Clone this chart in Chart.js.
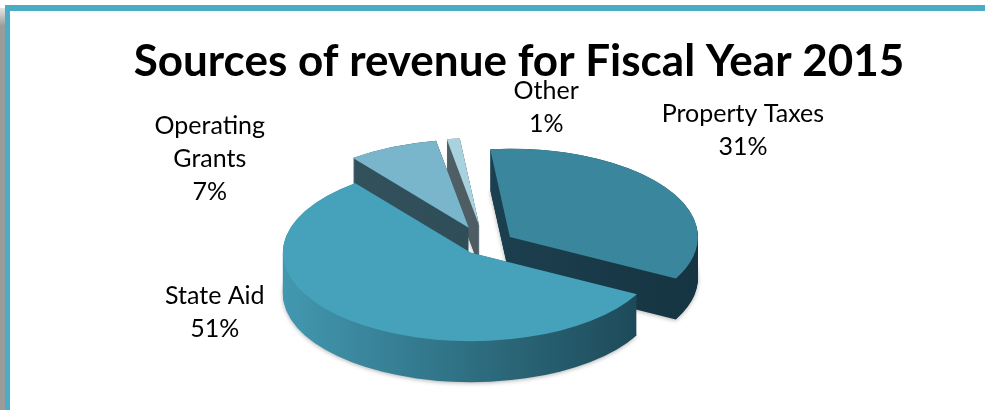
<!DOCTYPE html>
<html>
<head>
<meta charset="utf-8">
<title>Sources of revenue</title>
<script src="https://cdn.jsdelivr.net/npm/chart.js@4.4.1/dist/chart.umd.min.js"></script>
<style>
  html, body { margin: 0; padding: 0; background: #fff; overflow: hidden; }
  body { width: 985px; height: 410px; position: relative; }
  /* slide frame: grey edge + aqua rule */
  .edge { position: absolute; left: 0; top: 8px; width: 5px; height: 402px;
          background: linear-gradient(#e6e6e6, #9b9b9b 18px, #9b9b9b); }
  .frame { position: absolute; left: 5px; top: 5px; right: 0; bottom: -10px;
           border-top: 6px solid #4bacc6; border-left: 5px solid #4bacc6; }
  #wrap { position: absolute; left: 10px; top: 11px; width: 1018px; height: 399px; }
</style>
</head>
<body>
<div class="edge"></div>
<div class="frame"></div>
<div id="wrap"><canvas id="revenueChart"></canvas></div>

<script>
// --- data ---
const categories = ['Property Taxes', 'State Aid', ['Operating', 'Grants'], 'Other'];
const shares = [31, 51, 7, 1];

// --- look ---
const faceColors = ['#3a879d', '#46a1bb', '#79b6cb', '#a9d2df'];
const sideColors = [['#21495a', '#163442'], ['#4298b0', '#1b4553'], ['#33535e', '#2c4852'], ['#5d6d73', '#3b4b51']];
const explode = [30, 22, 40, 40];      // how far each slice is pulled out
const tilt = 0.47;                      // vertical squash of the pie
const depth = 41;                       // wall height on screen, px
const nudgeX = -34;                     // pie sits a little left of the title
const labelSpots = [
    { turn: -9.4, r: 355 },
    { turn: 22, r: 306 },
    { turn: -32.5, r: 330 },
    { turn: 19.8, r: 299 }
];
const labelFontSize = 25;
const lineGap = 33;

const midAngle = arc => (arc.startAngle + arc.endAngle) / 2;

// extruded, tilted, exploded pie built on the arc elements
const pie3d = {
    id: 'pie3d',
    beforeDatasetsDraw(chart) {
        const ctx = chart.ctx;
        const arcs = chart.getDatasetMeta(0).data;
        const cx = arcs[0].x, cy = arcs[0].y;
        const lift = depth / tilt;

        ctx.save();
        ctx.translate(cx + nudgeX, cy);
        ctx.scale(1, tilt);
        ctx.translate(-cx, -cy);

        // back slices first so the front ones cover them
        const order = arcs.map((a, i) => i)
            .sort((i, j) => Math.sin(midAngle(arcs[i])) - Math.sin(midAngle(arcs[j])));

        order.forEach(i => {
            const arc = arcs[i];
            const m = midAngle(arc);
            const R = arc.outerRadius;
            ctx.save();
            ctx.translate(Math.cos(m) * explode[i], Math.sin(m) * explode[i]);

            const grad = ctx.createLinearGradient(cx - R, 0, cx + R, 0);
            grad.addColorStop(0, sideColors[i][0]);
            grad.addColorStop(1, sideColors[i][1]);
            ctx.fillStyle = grad;
            for (let d = lift; d > 0; d -= 1 / tilt) {
                ctx.save();
                if (d === lift) {
                    ctx.shadowColor = 'rgba(0,0,0,0.3)';
                    ctx.shadowBlur = 4;
                    ctx.shadowOffsetY = 1;
                }
                ctx.beginPath();
                ctx.moveTo(cx, cy + d);
                ctx.arc(cx, cy + d, R, arc.startAngle, arc.endAngle);
                ctx.closePath();
                ctx.fill();
                ctx.restore();
            }
            arc.draw(ctx);
            ctx.restore();
        });

        ctx.restore();
        return false;
    }
};

// category + percent text around the pie
const sliceLabels = {
    id: 'sliceLabels',
    afterDraw(chart) {
        const ctx = chart.ctx;
        const arcs = chart.getDatasetMeta(0).data;
        ctx.save();
        ctx.font = labelFontSize + 'px Lato';
        ctx.fillStyle = '#000';
        ctx.textAlign = 'center';
        ctx.textBaseline = 'middle';
        arcs.forEach((arc, i) => {
            const a = midAngle(arc) + labelSpots[i].turn * Math.PI / 180;
            const x = arc.x + nudgeX + Math.cos(a) * labelSpots[i].r;
            const y = arc.y + tilt * Math.sin(a) * labelSpots[i].r;
            const lines = [].concat(categories[i], shares[i] + '%');
            lines.forEach((t, k) => {
                ctx.fillText(t, x, y + (k - (lines.length - 1) / 2) * lineGap);
            });
        });
        ctx.restore();
    }
};

const ctx = document.getElementById('revenueChart').getContext('2d');
new Chart(ctx, {
    type: 'pie',
    data: {
        labels: categories,
        datasets: [{
            data: shares,
            backgroundColor: faceColors,
            borderWidth: 0
        }]
    },
    options: {
        responsive: true,
        maintainAspectRatio: false,
        animation: false,
        events: [],
        rotation: -6,
        radius: 188,
        layout: { padding: { top: 0, bottom: 8 } },
        plugins: {
            legend: { display: false },
            tooltip: { enabled: false },
            title: {
                display: true,
                text: 'Sources of revenue for Fiscal Year 2015',
                color: '#000',
                font: { family: 'Lato', size: 44, weight: 'bold' },
                padding: { top: 24, bottom: 0 }
            }
        }
    },
    plugins: [pie3d, sliceLabels]
});
</script>
</body>
</html>
